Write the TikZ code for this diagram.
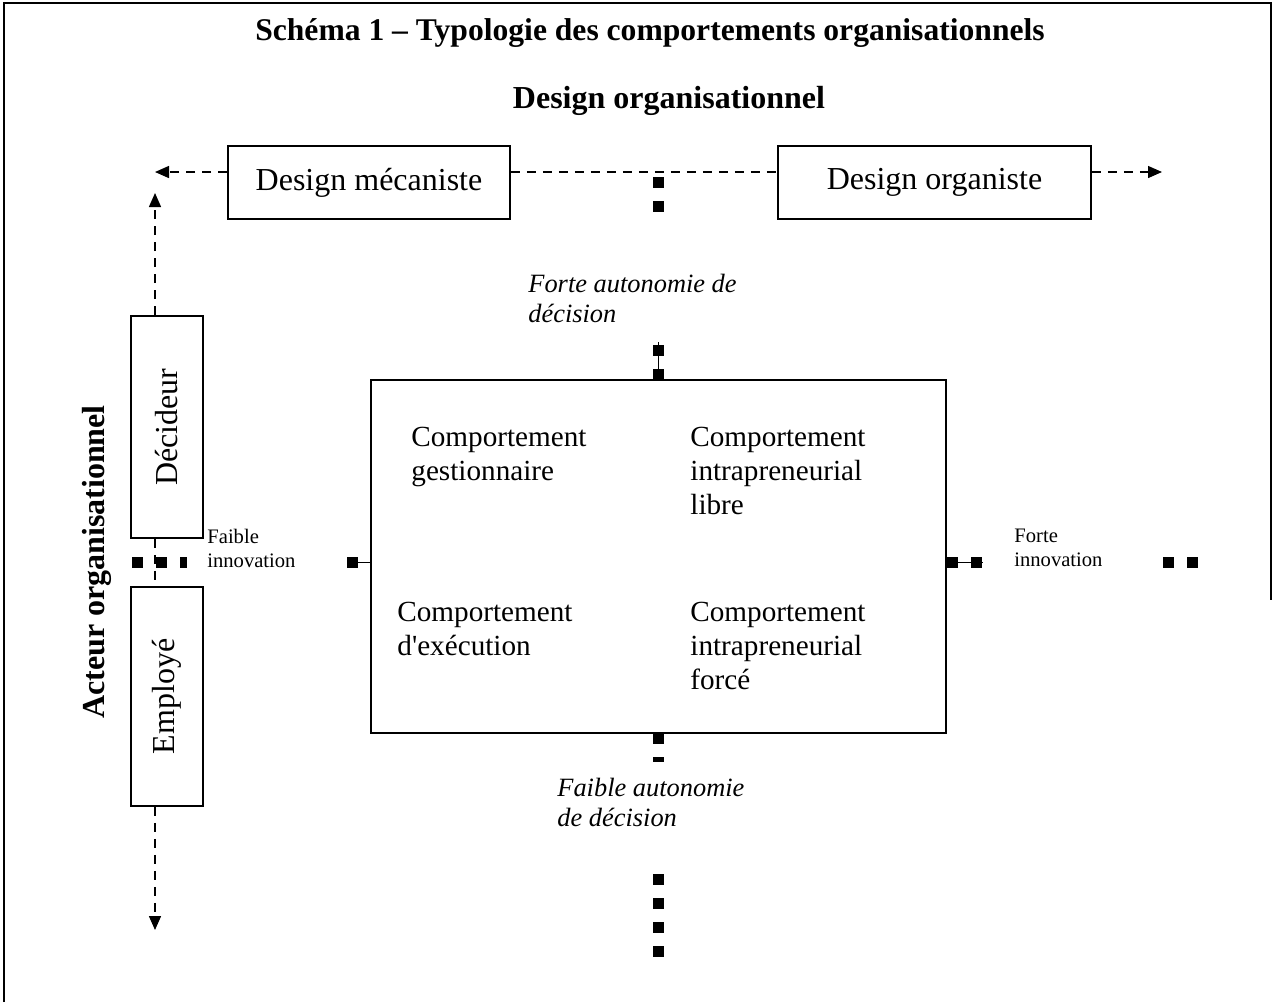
\documentclass[tikz,border=0pt]{standalone}
\usepackage{fontspec}
\setmainfont{Liberation Serif}
\usetikzlibrary{arrows.meta, positioning}

\tikzset{
  cadre/.style={draw, line width=0.8pt, inner sep=0pt},
  tiret/.style={line width=0.7pt, dash pattern=on 4.5pt off 3.5pt},
  carre/.style={line width=5.5pt, dash pattern=on 5.5pt off 6.5pt},
  fleche/.style={-{Triangle[length=7pt,width=6pt]}},
  quadrant/.style={anchor=north west, inner sep=0pt, align=left, font=\fontsize{14.6}{17}\selectfont},
  pole/.style={anchor=north west, inner sep=0pt, align=left, font=\fontsize{13.2}{15}\selectfont\itshape},
  petit/.style={anchor=north west, inner sep=0pt, align=left, font=\fontsize{10.3}{12}\selectfont},
}

\begin{document}
\begin{tikzpicture}[x=0.5pt, y=-0.5pt]
\useasboundingbox (0,0) rectangle (1275,1002);
\draw[line width=1pt] (4,1002) -- (4,3) -- (1271,3) -- (1271,600);

% titres
\node[anchor=base, font=\fontsize{15.8}{19}\selectfont\bfseries] (titre) at (650,40) {Schéma 1 – Typologie des comportements organisationnels};
\node[anchor=base, font=\fontsize{16}{19}\selectfont\bfseries] (design) at (669,108) {Design organisationnel};

% axe du design
\node[cadre, minimum width=141pt, minimum height=36.5pt, font=\fontsize{16}{19}\selectfont] (meca) at (369,182.5) {Design mécaniste};
\node[cadre, minimum width=156.5pt, minimum height=36.5pt, font=\fontsize{16}{19}\selectfont] (orga) at (934.5,182.5) {Design organiste};
\coordinate (dg) at (155,172);
\coordinate (dd) at (1162,172);
\draw[tiret, fleche] (meca.west |- dg) -- (dg);
\draw[tiret] (meca.east |- dg) -- (orga.west |- dg);
\draw[tiret, fleche] (orga.east |- dd) -- (dd);

% axe de l'acteur
\node[rotate=90, font=\fontsize{16}{19}\selectfont\bfseries] (acteur) at (97,562) {Acteur organisationnel};
\node[cadre, rotate=90, minimum width=111pt, minimum height=36pt, font=\fontsize{16}{19}\selectfont] (decideur) at (167,427) {Décideur};
\node[cadre, rotate=90, minimum width=109.5pt, minimum height=36pt, font=\fontsize{16}{19}\selectfont] (employe) at (167,696.5) {Employé};
\coordinate (ah) at (155,193);
\coordinate (ab) at (155,930);
\draw[tiret, fleche] (decideur.east -| ah) -- (ah);
\draw[tiret] (decideur.west -| ah) -- (employe.east -| ah);
\draw[tiret, fleche] (employe.west -| ab) -- (ab);

% typologie
\node[cadre, minimum width=287.5pt, minimum height=176.5pt] (typo) at (658.5,556.5) {};
\node[quadrant] (gest) at (411,427) {Comportement\\gestionnaire};
\node[quadrant] (libre) at (690,427) {Comportement\\intrapreneurial\\libre};
\node[quadrant] (exec) at (397,602) {Comportement\\d\textquotesingle exécution};
\node[quadrant] (force) at (690,602) {Comportement\\intrapreneurial\\forcé};

% autonomie et innovation
\node[pole] (forteaut) at (528,274) {Forte autonomie de\\décision};
\node[pole] (faibleaut) at (557,778) {Faible autonomie\\de décision};
\node[petit] (faibleinn) at (207,529) {Faible\\innovation};
\node[petit] (forteinn) at (1014,529) {Forte\\innovation};

\foreach \a/\b in {177/212, 345/380, 733/762, 874/958}
  \draw[carre] (658,\a) -- (658,\b);
\foreach \a/\b in {132/187, 347/358, 947/958, 971/982, 1163/1198}
  \draw[carre] (\a,562) -- (\b,562);
\draw (typo.north) -- ++(0,-37);
\draw (typo.west |- 0,562) -- ++(-23,0);
\draw (typo.east |- 0,562) -- ++(36,0);
\end{tikzpicture}
\end{document}
